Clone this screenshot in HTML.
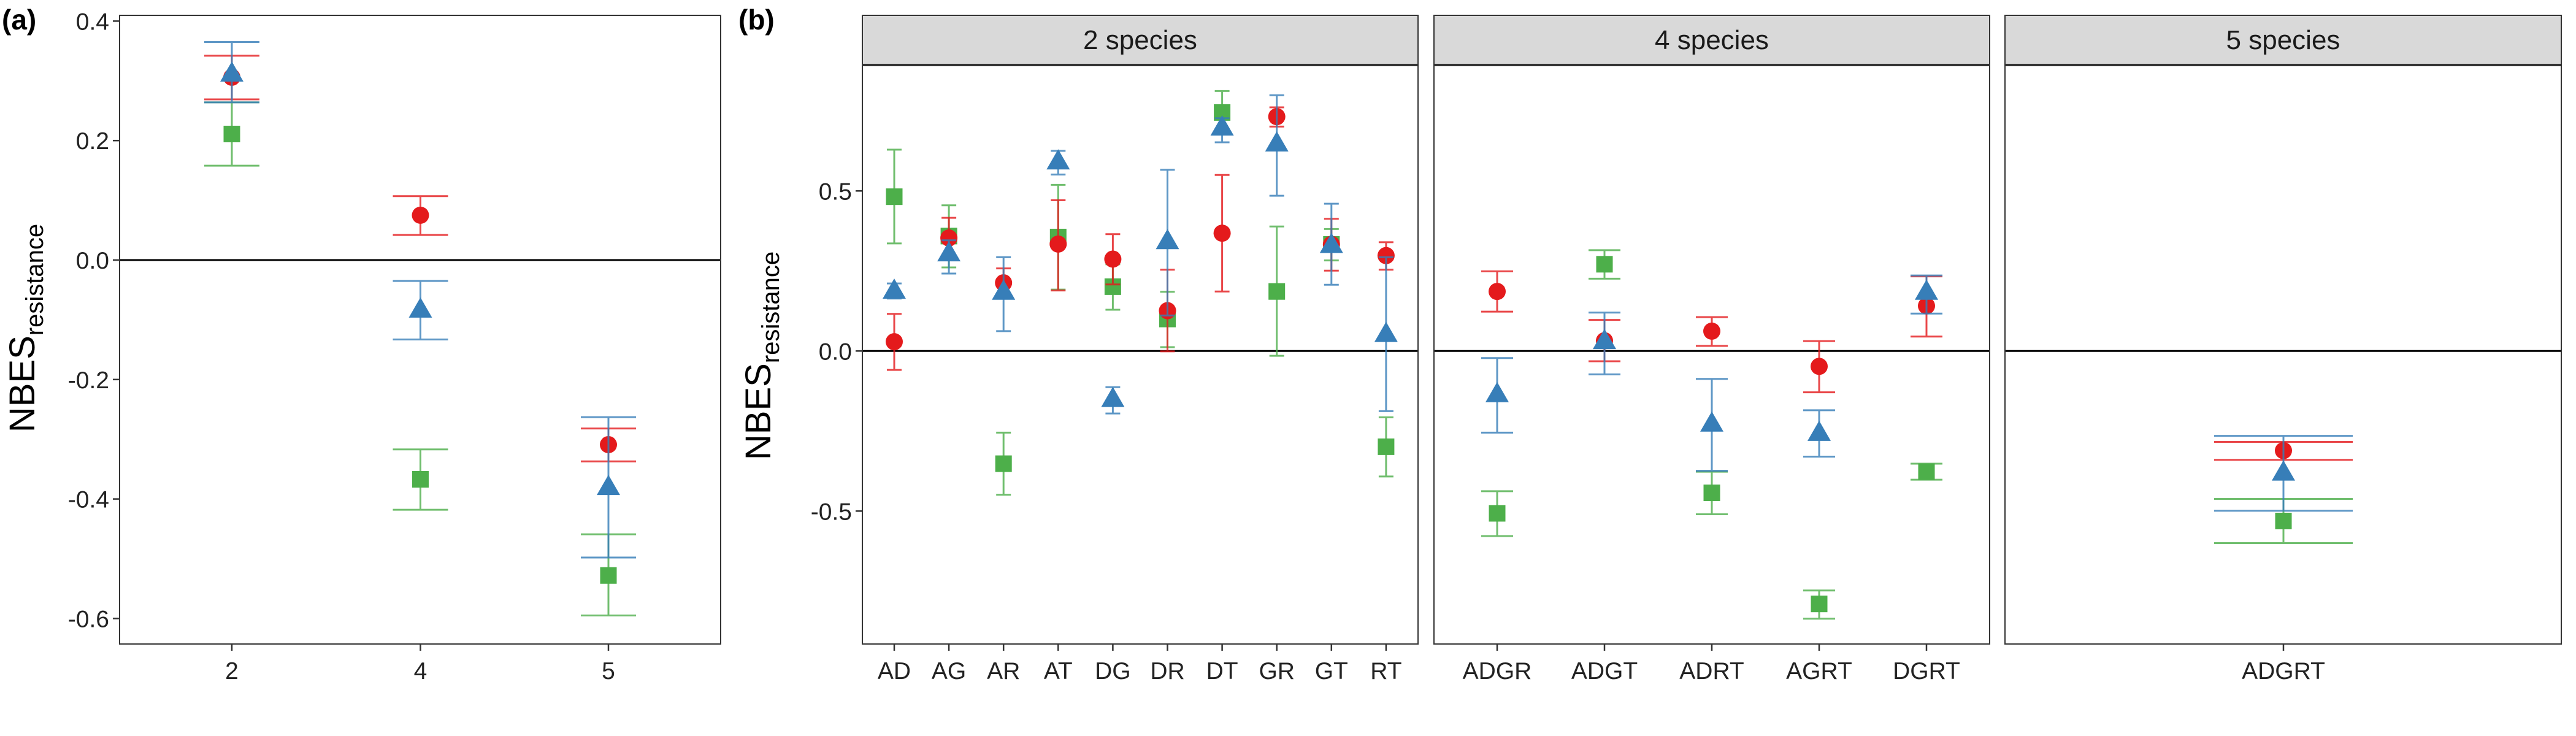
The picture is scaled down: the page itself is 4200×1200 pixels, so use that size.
<!DOCTYPE html>
<html><head><meta charset="utf-8"><style>
html,body{margin:0;padding:0;background:#fff;}
svg{display:block;font-family:"Liberation Sans",Arial,sans-serif;}
</style></head><body>
<svg id="chart" width="4200" height="1200" viewBox="0 0 4200 1200" xmlns="http://www.w3.org/2000/svg"></svg>
<script>
// ---- Panel (a) data: by species richness ----
const aCategories = ["2", "4", "5"];
const aRedMean = [0.306, 0.075, -0.309];
const aRedLo = [0.269, 0.042, -0.337];
const aRedHi = [0.342, 0.107, -0.282];
const aBlueMean = [0.312, -0.083, -0.380];
const aBlueLo = [0.264, -0.133, -0.498];
const aBlueHi = [0.365, -0.035, -0.263];
const aGreenMean = [0.211, -0.367, -0.528];
const aGreenLo = [0.158, -0.418, -0.595];
const aGreenHi = [0.264, -0.317, -0.459];
const aTicks = [0.4, 0.2, 0.0, -0.2, -0.4, -0.6];
const aTickLabels = ["0.4", "0.2", "0.0", "-0.2", "-0.4", "-0.6"];

// ---- Panel (b) data: by combination ----
const bFacets = ["2 species", "4 species", "5 species"];
const bCat2 = ["AD","AG","AR","AT","DG","DR","DT","GR","GT","RT"];
const bCat4 = ["ADGR","ADGT","ADRT","AGRT","DGRT"];
const bCat5 = ["ADGRT"];
const bRedMean = [0.029,0.353,0.213,0.334,0.287,0.126,0.368,0.732,0.333,0.298, 0.186,0.032,0.062,-0.048,0.141, -0.311];
const bRedLo   = [-0.059,0.290,0.166,0.189,0.208,-0.001,0.186,0.701,0.251,0.254, 0.123,-0.032,0.016,-0.129,0.045, -0.340];
const bRedHi   = [0.116,0.416,0.258,0.471,0.365,0.254,0.550,0.761,0.413,0.340, 0.249,0.097,0.106,0.031,0.233, -0.284];
const bBlueMean = [0.188,0.305,0.185,0.592,-0.150,0.343,0.698,0.648,0.331,0.053, -0.135,0.031,-0.227,-0.256,0.185, -0.380];
const bBlueLo   = [0.164,0.242,0.062,0.551,-0.195,0.111,0.652,0.485,0.207,-0.188, -0.255,-0.073,-0.374,-0.330,0.117, -0.499];
const bBlueHi   = [0.211,0.346,0.293,0.625,-0.113,0.566,0.727,0.799,0.460,0.293, -0.022,0.120,-0.087,-0.185,0.236, -0.265];
const bGreenMean = [0.482,0.359,-0.352,0.356,0.201,0.100,0.745,0.186,0.333,-0.299, -0.507,0.271,-0.443,-0.790,-0.377, -0.531];
const bGreenLo   = [0.336,0.261,-0.449,0.192,0.129,0.012,0.682,-0.015,0.283,-0.392, -0.578,0.226,-0.510,-0.836,-0.402, -0.600];
const bGreenHi   = [0.629,0.455,-0.255,0.519,0.271,0.185,0.812,0.389,0.381,-0.207, -0.438,0.315,-0.377,-0.748,-0.352, -0.462];
const bTicks = [0.5, 0.0, -0.5];
const bTickLabels = ["0.5", "0.0", "-0.5"];

const NS = "http://www.w3.org/2000/svg";
const svg = document.getElementById("chart");
const RED = "#E41A1C", BLUE = "#377EB8", GREEN = "#4DAF4A";
function mk(tag, attrs, parent) {
  const e = document.createElementNS(NS, tag);
  for (const k in attrs) e.setAttribute(k, attrs[k]);
  (parent || svg).appendChild(e);
  return e;
}
function txt(s, attrs, parent) { const t = mk("text", attrs, parent); t.textContent = s; return t; }

function drawSeries(g, xs, mean, lo, hi, color, shape, yf, capHalf, name) {
  for (let i = 0; i < xs.length; i++) {
    const x = xs[i];
    const eb = mk("g", {opacity: 0.8}, g);
    
    
    mk("line", {x1: x, x2: x, y1: yf(lo[i]), y2: yf(hi[i]), stroke: color, "stroke-width": 3}, eb);
    mk("line", {x1: x - capHalf, x2: x + capHalf, y1: yf(lo[i]), y2: yf(lo[i]), stroke: color, "stroke-width": 3}, eb);
    mk("line", {x1: x - capHalf, x2: x + capHalf, y1: yf(hi[i]), y2: yf(hi[i]), stroke: color, "stroke-width": 3}, eb);
  }
  for (let i = 0; i < xs.length; i++) {
    const x = xs[i], y = yf(mean[i]);
    let m;
    if (shape === "circle") m = mk("circle", {cx: x, cy: y, r: 14, fill: color}, g);
    else if (shape === "square") m = mk("rect", {x: x - 13.5, y: y - 13.5, width: 27, height: 27, fill: color}, g);
    else m = mk("polygon", {points: `${x},${y-20} ${x-19},${y+13} ${x+19},${y+13}`, fill: color}, g);
    
    
  }
}

// ---------- Panel (a) ----------
(function () {
  const L = 195, R = 1175, T = 25, B = 1050;
  const y0 = 424, per = 974; // pixels per 1 unit
  const yf = v => y0 - v * per;
  const xPos = [378, 685.5, 992];
  const g = mk("g", {});
  
  
  const lab = txt("(a)", {x: 3, y: 48, "font-size": 46, "font-weight": "bold", fill: "#000"}, g);
  
  
  mk("rect", {x: L, y: T, width: R - L, height: B - T, fill: "#fff"}, g);
  const zl = mk("line", {x1: L, x2: R, y1: yf(0), y2: yf(0), stroke: "#000", "stroke-width": 3}, g);
  
  
  drawSeries(g, xPos, aGreenMean, aGreenLo, aGreenHi, GREEN, "square", yf, 45, "green-series");
  drawSeries(g, xPos, aRedMean, aRedLo, aRedHi, RED, "circle", yf, 45, "red-series");
  drawSeries(g, xPos, aBlueMean, aBlueLo, aBlueHi, BLUE, "triangle", yf, 45, "blue-series");
  const fr = mk("rect", {x: L, y: T, width: R - L, height: B - T, fill: "none", stroke: "#333", "stroke-width": 2}, g);
  
  
  for (let i = 0; i < aTicks.length; i++) {
    const y = yf(aTicks[i]);
    mk("line", {x1: L - 11, x2: L, y1: y, y2: y, stroke: "#333", "stroke-width": 2.5}, g);
    const t = txt(aTickLabels[i], {x: L - 17, y: y + 14, "font-size": 39, "text-anchor": "end", fill: "#222"}, g);
    
    
  }
  for (let i = 0; i < aCategories.length; i++) {
    mk("line", {x1: xPos[i], x2: xPos[i], y1: B, y2: B + 11, stroke: "#333", "stroke-width": 2.5}, g);
    const t = txt(aCategories[i], {x: xPos[i], y: 1107, "font-size": 39, "text-anchor": "middle", fill: "#222"}, g);
    
    
  }
  const yt = txt("", {transform: "translate(56,535) rotate(-90)", "font-size": 58, "text-anchor": "middle", fill: "#000"}, g);
  
  
  const s1 = mk("tspan", {}, yt); s1.textContent = "NBES";
  const s2 = mk("tspan", {"font-size": 40, dy: 14}, yt); s2.textContent = "resistance";
})();

// ---------- Panel (b) ----------
(function () {
  const T = 107, B = 1050, ST = 25, SB = 105;
  const y0 = 572.3, per = 522;
  const yf = v => y0 - v * per;
  const panels = [
    {L: 1406, R: 2312, cats: bCat2, x0: 1458, dx: 89.1, cap: 12, off: 0},
    {L: 2338, R: 3244, cats: bCat4, x0: 2441, dx: 175, cap: 26, off: 10},
    {L: 3269, R: 4176, cats: bCat5, x0: 3723, dx: 0, cap: 113, off: 15}
  ];
  const g = mk("g", {});
  
  
  const lab = txt("(b)", {x: 1204, y: 48, "font-size": 46, "font-weight": "bold", fill: "#000"}, g);
  
  
  panels.forEach((p, k) => {
    const fg = mk("g", {}, g);
    
    
    const strip = mk("rect", {x: p.L, y: ST, width: p.R - p.L, height: SB - ST, fill: "#D9D9D9", stroke: "#333", "stroke-width": 2}, fg);
    
    
    const st = txt(bFacets[k], {x: (p.L + p.R) / 2, y: 80, "font-size": 44, "text-anchor": "middle", fill: "#1a1a1a"}, fg);
    
    
    mk("rect", {x: p.L, y: T, width: p.R - p.L, height: B - T, fill: "#fff"}, fg);
    const zl = mk("line", {x1: p.L, x2: p.R, y1: yf(0), y2: yf(0), stroke: "#000", "stroke-width": 3}, fg);
    
    
    const xs = p.cats.map((c, i) => p.x0 + i * p.dx);
    const sl = a => a.slice(p.off, p.off + p.cats.length);
    drawSeries(fg, xs, sl(bGreenMean), sl(bGreenLo), sl(bGreenHi), GREEN, "square", yf, p.cap, "green-series");
    drawSeries(fg, xs, sl(bRedMean), sl(bRedLo), sl(bRedHi), RED, "circle", yf, p.cap, "red-series");
    drawSeries(fg, xs, sl(bBlueMean), sl(bBlueLo), sl(bBlueHi), BLUE, "triangle", yf, p.cap, "blue-series");
    const fr = mk("rect", {x: p.L, y: T, width: p.R - p.L, height: B - T, fill: "none", stroke: "#333", "stroke-width": 2}, fg);
    
    
    xs.forEach((x, i) => {
      mk("line", {x1: x, x2: x, y1: B, y2: B + 11, stroke: "#333", "stroke-width": 2.5}, fg);
      const t = txt(p.cats[i], {x: x, y: 1107, "font-size": 39, "text-anchor": "middle", fill: "#222"}, fg);
      
      
    });
  });
  const L = 1406;
  for (let i = 0; i < bTicks.length; i++) {
    const y = yf(bTicks[i]);
    mk("line", {x1: L - 11, x2: L, y1: y, y2: y, stroke: "#333", "stroke-width": 2.5}, g);
    const t = txt(bTickLabels[i], {x: L - 17, y: y + 14, "font-size": 39, "text-anchor": "end", fill: "#222"}, g);
    
    
  }
  const yt = txt("", {transform: "translate(1256,580) rotate(-90)", "font-size": 58, "text-anchor": "middle", fill: "#000"}, g);
  
  
  const s1 = mk("tspan", {}, yt); s1.textContent = "NBES";
  const s2 = mk("tspan", {"font-size": 40, dy: 14}, yt); s2.textContent = "resistance";
})();
</script>
</body></html>
